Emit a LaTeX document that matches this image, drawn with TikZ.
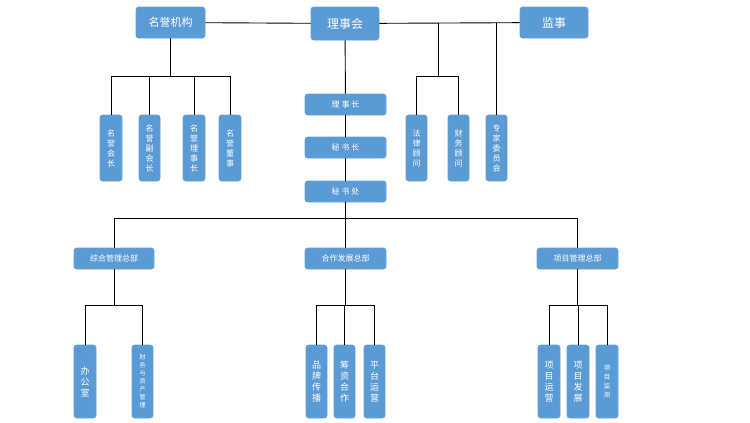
\documentclass[tikz,border=0pt]{standalone}
\usepackage{fontspec}
\setmainfont{Noto Sans CJK SC}
\begin{document}
\begin{tikzpicture}[x=1pt,y=-1pt,
 bx/.style={draw=blue!50!black!60!cyan!60, fill={rgb,255:red,91;green,155;blue,213}, rounded corners=2.5pt, line width=0.6pt, text=white, inner sep=0pt, align=center},
 ln/.style={line width=0.9pt, black}]
\useasboundingbox (0,0) rectangle (750,423);
\fill[white] (0,0) rectangle (750,423);
\newcommand{\bb}[6]{\node[bx,minimum width=#3-#2,minimum height=#5-#4,font=#6] (#1) at ({(#2+#3)/2},{(#4+#5)/2})}
% top
\bb{jg}{136}{205}{7}{38}{\fontsize{11}{12}\selectfont}{名誉机构};
\bb{lsh}{311}{379}{7}{40}{\fontsize{12}{13}\selectfont}{理事会};
\bb{js}{520}{588}{7}{38}{\fontsize{12}{13}\selectfont}{监事};
\bb{lsz}{305}{386}{94}{115}{\fontsize{8}{9}\selectfont}{理 事 长};
\bb{msz}{305}{386}{137}{158}{\fontsize{8}{9}\selectfont}{秘 书 长};
\bb{msc}{305}{386}{181}{202}{\fontsize{8}{9}\selectfont}{秘 书 处};
\bb{a1}{100}{122}{115}{181}{\fontsize{8}{10}\selectfont}{名\\誉\\会\\长};
\bb{a2}{139}{160}{115}{181}{\fontsize{8}{10}\selectfont}{名\\誉\\副\\会\\长};
\bb{a3}{183}{205}{115}{181}{\fontsize{8}{10}\selectfont}{名\\誉\\理\\事\\长};
\bb{a4}{219}{241}{115}{181}{\fontsize{8}{10}\selectfont}{名\\誉\\董\\事};
\bb{b1}{406}{427}{115}{181}{\fontsize{8}{10}\selectfont}{法\\律\\顾\\问};
\bb{b2}{448}{469}{115}{181}{\fontsize{8}{10}\selectfont}{财\\务\\顾\\问};
\bb{b3}{486}{507}{115}{181}{\fontsize{8}{10}\selectfont}{专\\家\\委\\员\\会};
% depts
\bb{d1}{74}{154}{248}{269}{\fontsize{8}{9}\selectfont}{综合管理总部};
\bb{d2}{305}{386}{248}{269}{\fontsize{8}{9}\selectfont}{合作发展总部};
\bb{d3}{537}{618}{248}{269}{\fontsize{8}{9}\selectfont}{项目管理总部};
\bb{e1}{74}{96}{345}{418}{\fontsize{9}{11}\selectfont}{办\\公\\室};
\bb{e2}{132}{153}{345}{418}{\fontsize{6}{8}\selectfont}{财\\务\\与\\资\\产\\管\\理};
\bb{f1}{306}{327}{345}{418}{\fontsize{9}{11}\selectfont}{品\\牌\\传\\播};
\bb{f2}{334}{355}{345}{418}{\fontsize{9}{11}\selectfont}{筹\\资\\合\\作};
\bb{f3}{364}{385}{345}{418}{\fontsize{9}{11}\selectfont}{平\\台\\运\\营};
\bb{g1}{538}{560}{345}{418}{\fontsize{9}{11}\selectfont}{项\\目\\运\\营};
\bb{g2}{567}{589}{345}{418}{\fontsize{9}{11}\selectfont}{项\\目\\发\\展};
\bb{g3}{596}{618}{345}{418}{\fontsize{6.5}{9}\selectfont}{项\\目\\监\\测};
% connectors
\draw[ln] (jg) -- (lsh);
\draw[ln] (lsh) -- (js);
\draw[ln] (lsh) -- (lsz);
\draw[ln] (lsz) -- (msz);
\draw[ln] (msz) -- (msc);
\draw[ln] (jg.south) -- ++(0,38) coordinate (t1);
\foreach \n in {a1,a2,a3,a4} \draw[ln] (\n.north) |- (t1);
\coordinate (r1) at (438,23);
\coordinate (r2) at (438,76);
\draw[ln] (r1) -- (r2);
\foreach \n in {b1,b2} \draw[ln] (\n.north) |- (r2);
\draw[ln] (b3.north) -- (b3.north |- r1);
\coordinate (m1) at (345.5,218);
\draw[ln] (msc) -- (m1);
\foreach \n in {d1,d2,d3} \draw[ln] (\n.north) |- (m1);
\foreach \d/\l in {d1/{e1,e2},d2/{f1,f2,f3},d3/{g1,g2,g3}} {
  \draw[ln] (\d.south) -- ++(0,36) coordinate (q);
  \foreach \n in \l \draw[ln] (\n.north) |- (q);
}
\end{tikzpicture}
\end{document}
